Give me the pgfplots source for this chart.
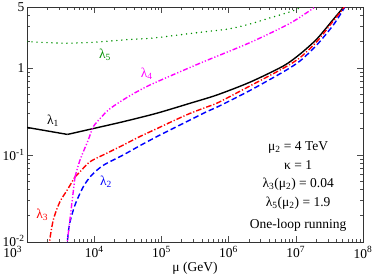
\documentclass[border=0pt]{standalone}
\usepackage{fontspec}
\setmainfont{Liberation Serif}
\usepackage{pgfplots}
\pgfplotsset{compat=1.18}
\definecolor{ggreen}{RGB}{0,145,0}
\definecolor{mmag}{RGB}{255,0,255}
\begin{document}
\begin{tikzpicture}[font=\fontsize{13.5bp}{16bp}\selectfont]
\begin{axis}[
  xmode=log, ymode=log,
  scale only axis, width=336bp, height=235bp,
  xmin=1e3, xmax=1e8, ymin=0.01, ymax=5,
  xtick={1e3,1e4,1e5,1e6,1e7,1e8},
  xticklabels={\makebox[0pt][r]{\raisebox{-3.5bp}{10\textsuperscript{3}}\hspace{5bp}},10\textsuperscript{4},10\textsuperscript{5},10\textsuperscript{6},10\textsuperscript{7},10\textsuperscript{8}},
  ytick={0.01,0.1,1,5},
  yticklabels={\raisebox{2bp}{10\textsuperscript{-2}},10\textsuperscript{-1},1,5},
  minor xtick={2e3,3e3,4e3,5e3,6e3,7e3,8e3,9e3,2e4,3e4,4e4,5e4,6e4,7e4,8e4,9e4,2e5,3e5,4e5,5e5,6e5,7e5,8e5,9e5,2e6,3e6,4e6,5e6,6e6,7e6,8e6,9e6,2e7,3e7,4e7,5e7,6e7,7e7,8e7,9e7},
  minor ytick={0.02,0.03,0.04,0.05,0.06,0.07,0.08,0.09,0.2,0.3,0.4,0.5,0.6,0.7,0.8,0.9,2,3,4},
  major tick length=6bp, minor tick length=3.5bp,
  tick style={black!70, line width=0.6bp},
  axis line style={black!80, line width=0.8bp},
  xlabel={μ (GeV)},
  xlabel style={yshift=2.5bp},
  xticklabel style={yshift=-1bp},
  yticklabel style={xshift=1bp},
  clip=true,
]
% lambda_1
\addplot[black, line width=1.4bp] coordinates {(1000,0.207) (4000,0.172)};
\addplot[black, line width=1.4bp, smooth, tension=0.45] coordinates {
(4000,0.172) (8660,0.197) (27100,0.241) (85100,0.301) (266700,0.392) (665300,0.487) (2.08e6,0.685) (6.52e6,1.05) (1.156e7,1.44) (2.05e7,2.14) (3.61e7,3.6) (5.13e7,5.0) (5.5e7,5.8)
};
% lambda_2
\addplot[blue, line width=1.4bp, dash pattern=on 5.5bp off 3bp, smooth, tension=0.45] coordinates {
(3900,0.0085) (4270,0.0157) (5180,0.0266) (6890,0.0432) (9180,0.0587) (13650,0.076) (27100,0.100) (48100,0.128) (85100,0.162) (150300,0.202) (266700,0.252) (472000,0.314) (703000,0.36) (2.08e6,0.55) (6.52e6,0.90) (1.156e7,1.2) (2.05e7,1.83) (3.61e7,3.1) (5.37e7,5.0) (5.8e7,5.8)
};
% lambda_3
\addplot[red, line width=1.4bp, dash pattern=on 5.5bp off 2bp on 1.2bp off 2bp, smooth, tension=0.45] coordinates {
(2130,0.0085) (2200,0.011) (2290,0.0135) (2510,0.019) (3090,0.029) (4000,0.040) (5180,0.056)
};
\addplot[red, line width=1.4bp, dash pattern=on 5.5bp off 2bp on 1.2bp off 2bp, smooth, tension=0.45] coordinates {
(5180,0.056) (6150,0.064) (8660,0.0836) (15350,0.1045) (27100,0.130) (48100,0.163) (85100,0.200) (150300,0.246) (266700,0.300) (472000,0.355) (703000,0.40) (2.08e6,0.62) (6.52e6,0.99) (1.156e7,1.31) (2.05e7,2.0) (3.61e7,3.45) (5.25e7,5.0) (5.7e7,5.8)
};
% lambda_4
\addplot[mmag, line width=1.4bp, dash pattern=on 5bp off 2bp on 1.2bp off 2bp on 1.2bp off 2bp] coordinates {
(3880,0.0085) (5180,0.056)};
\addplot[mmag, line width=1.4bp, dash pattern=on 5bp off 2bp on 1.2bp off 2bp on 1.2bp off 2bp, smooth, tension=0.45] coordinates {
(5180,0.056) (6150,0.0875) (8170,0.149) (9700,0.211) (12940,0.275) (17180,0.34) (30480,0.455) (67600,0.636) (375000,1.13) (2.08e6,1.95) (8.2e6,3.25) (1.93e7,5.0) (2.2e7,5.6)
};
% lambda_5
\addplot[ggreen, line width=1.6bp, line cap=round, dash pattern=on 0bp off 5bp, smooth, tension=0.45] coordinates {
(1000,2.0) (2000,1.95) (4000,1.92) (10000,1.97) (34000,2.12) (75900,2.2) (375000,2.56) (1e6,2.8) (2.08e6,3.19) (4e6,3.72) (8.2e6,4.4) (1.23e7,5.0) (1.4e7,5.5)
};
\node[black] at (axis cs:2440,0.245) {λ\textsubscript{1}};
\node[blue] at (axis cs:15000,0.0493) {λ\textsubscript{2}};
\node[red] at (axis cs:1690,0.0204) {λ\textsubscript{3}};
\node[mmag] at (axis cs:60400,0.865) {λ\textsubscript{4}};
\node[ggreen] at (axis cs:14500,1.41) {λ\textsubscript{5}};
\node at (rel axis cs:0.807,0.404) {μ\textsubscript{2} = 4 TeV};
\node at (rel axis cs:0.807,0.328) {κ = 1};
\node at (rel axis cs:0.807,0.247) {λ\textsubscript{3}(μ\textsubscript{2}) = 0.04};
\node at (rel axis cs:0.807,0.166) {λ\textsubscript{5}(μ\textsubscript{2}) = 1.9};
\node at (rel axis cs:0.807,0.072) {One-loop running};
\coordinate (bl) at (rel axis cs:0,0);
\coordinate (tr) at (rel axis cs:1,1);
\end{axis}
\pgfresetboundingbox
\path ([shift={(-27bp,-36bp)}]bl) rectangle ([shift={(11bp,7bp)}]tr);
\end{tikzpicture}
\end{document}
